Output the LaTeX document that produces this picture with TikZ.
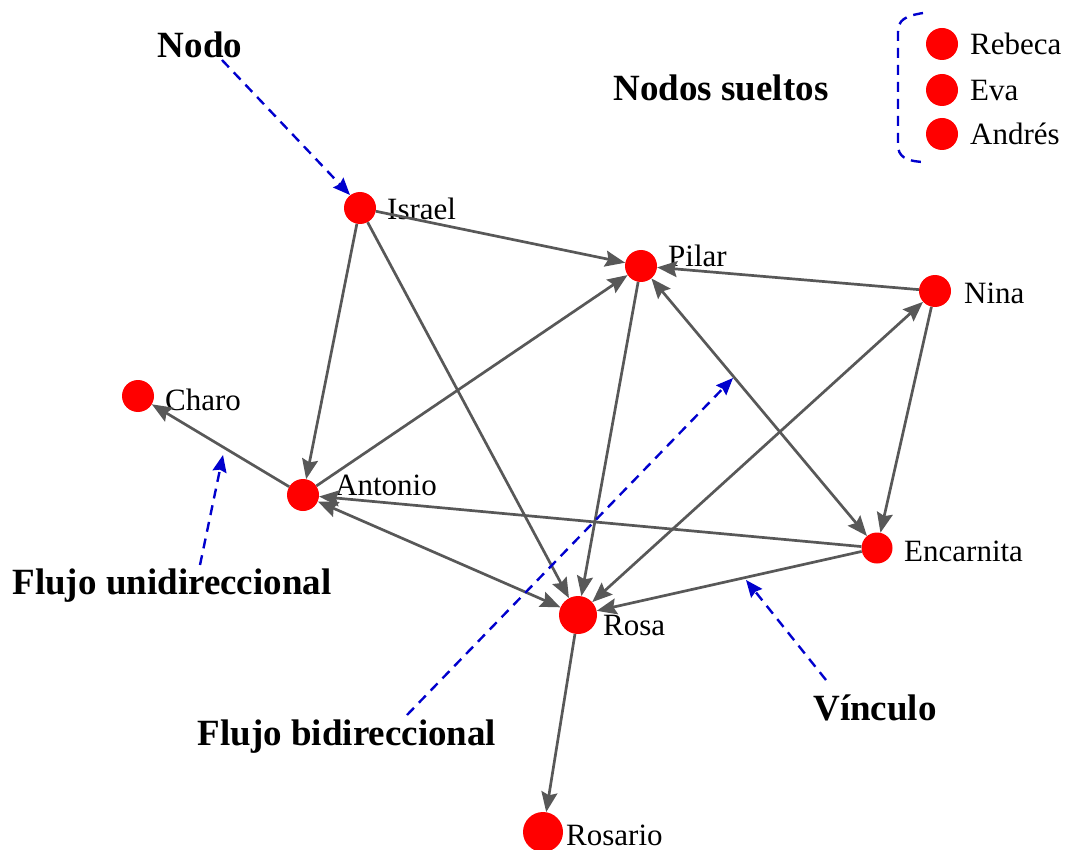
\documentclass[tikz,border=0pt]{standalone}
\usepackage{fontspec}
\setmainfont{Liberation Serif}
\usetikzlibrary{arrows.meta}
\definecolor{edgegray}{RGB}{88,88,88}
\definecolor{notablue}{RGB}{0,0,205}
\tikzset{
  person/.style={circle,fill=red,draw=none,minimum size=32pt,inner sep=0pt},
  bigperson/.style={person,minimum size=38pt},
  personlabel/.style={anchor=base west,inner sep=0pt,font=\fontsize{31}{36}\selectfont},
  notelabel/.style={anchor=base,inner sep=0pt,font=\fontsize{37}{42}\selectfont\bfseries},
  relone/.style={draw=edgegray,line width=2.7pt,-{Stealth[length=20pt,width=16pt,inset=3pt]}},
  relboth/.style={relone,{Stealth[length=20pt,width=16pt,inset=3pt]}-{Stealth[length=20pt,width=16pt,inset=3pt]}},
  notearrow/.style={draw=notablue,line width=2.4pt,dash pattern=on 10pt off 7pt,-{Stealth[length=17pt,width=14pt,inset=2pt]}},
}
\begin{document}
\begin{tikzpicture}[x=1pt,y=-1pt]
\useasboundingbox (0,0) rectangle (1068,850);

% people
\node[person] (israel) at (360,208) {};
\node[person] (pilar) at (641,266) {};
\node[person] (nina) at (935,291) {};
\node[person] (charo) at (138,396) {};
\node[person] (antonio) at (303,495) {};
\node[person,minimum size=31pt] (encarnita) at (877,548) {};
\node[bigperson] (rosa) at (578,615) {};
\node[bigperson,minimum size=40pt] (rosario) at (543,832) {};
\node[person] (rebeca) at (942,44) {};
\node[person] (eva) at (942,90) {};
\node[person] (andres) at (942,134) {};

% names
\node[personlabel] (lisrael) at (387,220) {Israel};
\node[personlabel] (lpilar) at (668,267) {Pilar};
\node[personlabel] (lnina) at (964,304) {Nina};
\node[personlabel] (lcharo) at (165,410) {Charo};
\node[personlabel] (lantonio) at (335,495) {Antonio};
\node[personlabel] (lencarnita) at (904,561) {Encarnita};
\node[personlabel] (lrosa) at (603,635) {Rosa};
\node[personlabel] (lrosario) at (566,845) {Rosario};
\node[personlabel] (lrebeca) at (970,55) {Rebeca};
\node[personlabel] (leva) at (970,101) {Eva};
\node[personlabel] (landres) at (970,145) {Andrés};

% relations
\draw[relone] (israel) -- (pilar);
\draw[relone] (israel) -- (antonio);
\draw[relone] (israel) -- (rosa);
\draw[relone] (antonio) -- (pilar);
\draw[relone] (nina) -- (pilar);
\draw[relone] (pilar) -- (rosa);
\draw[relboth] (pilar) -- (encarnita);
\draw[relone] (nina) -- (encarnita);
\draw[relboth] (rosa) -- (nina);
\draw[relone] (encarnita) -- (antonio);
\draw[relboth] (antonio) -- (rosa);
\draw[relone] (encarnita) -- (rosa);
\draw[relone] (antonio) -- (charo);
\draw[relone] (rosa) -- (rosario);

% annotations
\node[notelabel] (tnodo) at (200,58) {Nodo};
\node[notelabel] (tsueltos) at (721,101) {Nodos sueltos};
\node[notelabel] (tuni) at (172,594) {Flujo unidireccional};
\node[notelabel] (tbi) at (347,745) {Flujo bidireccional};
\node[notelabel] (tvinculo) at (875,720) {Vínculo};

\coordinate (pnodo) at (222,60);
\coordinate (qnodo) at (350,195);
\coordinate (puni) at (200,565);
\coordinate (quni) at (223,455);
\coordinate (pbi) at (407,715);
\coordinate (qbi) at (733,378);
\coordinate (pvin) at (826,680);
\coordinate (qvin) at (746,580);

\draw[notearrow] (pnodo) -- (qnodo);
\draw[notearrow] (puni) -- (quni);
\draw[notearrow] (pbi) -- (qbi);
\draw[notearrow] (pvin) -- (qvin);

% bracket around the unlinked people
\coordinate (btop) at (923,13);
\coordinate (bbot) at (923,162);
\draw[draw=notablue,line width=2.4pt,dash pattern=on 10pt off 7pt]
  (btop) .. controls (905,16) and (898,20) .. (898,32)
  -- (898,145) .. controls (898,156) and (905,161) .. (bbot);
\end{tikzpicture}
\end{document}
